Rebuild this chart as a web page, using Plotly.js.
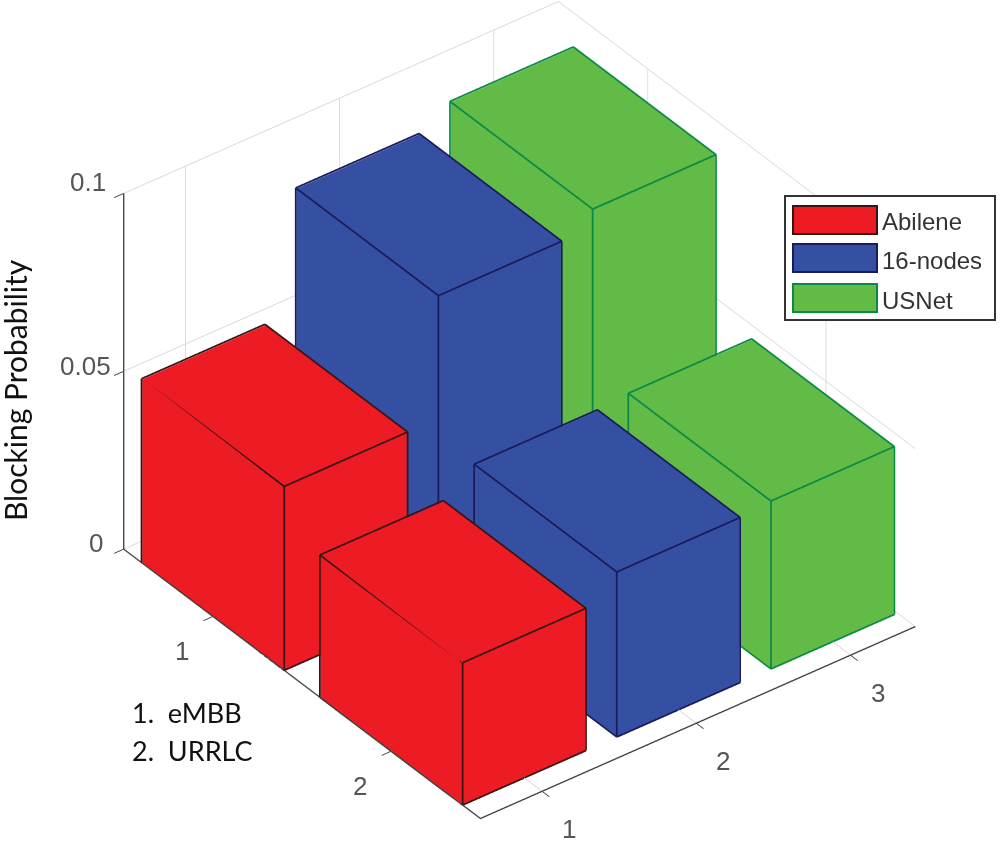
<!DOCTYPE html>
<html><head><meta charset="utf-8">
<script src="https://cdn.plot.ly/plotly-3.0.1.min.js"></script>
<style>html,body{margin:0;padding:0;background:#fff}#c{width:1000px;height:845px}</style>
</head><body><div id="c"></div>
<script>
const seriesNames = ['Abilene','16-nodes','USNet'];
const sliceLabels = ['1.  eMBB','2.  URRLC'];
const seriesTicks = [1,2,3];
const classTicks = [1,2];
const zTicks = [0,0.05,0.1];
const zTickText = ['0','0.05','0.1'];
const abilene = [0.0517,0.040];
const nodes16 = [0.0862,0.0464];
const usnet = [0.0914,0.0472];
const fillColors = ['#ED1C24','#3550A3','#62BB46'];
const edgeColors = ['#3a1414','#1a1a5c','#0a8a45'];
const allValues = [abilene,nodes16,usnet];
const W = 0.4;
const inset = 0.003, insetZ = 0.00015;
const xRange=[0.6,3.42], yRange=[2.5,0.5], zRange=[0,0.1];

const traces = [];
allValues.forEach((vals,s)=>{
  const X=[],Y=[],Z=[],I=[],J=[],K=[];
  const ex=[],ey=[],ez=[];
  vals.forEach((v,c)=>{
    const x0=seriesTicks[s]-W,x1=seriesTicks[s]+W,y0=classTicks[c]-W,y1=classTicks[c]+W;
    const b=X.length;
    const ax0=x0+inset,ax1=x1-inset,ay0=y0+inset,ay1=y1-inset,av=v-insetZ;
    [[ax0,ay0,0],[ax1,ay0,0],[ax1,ay1,0],[ax0,ay1,0],[ax0,ay0,av],[ax1,ay0,av],[ax1,ay1,av],[ax0,ay1,av]].forEach(p=>{X.push(p[0]);Y.push(p[1]);Z.push(p[2]);});
    [[0,1,2],[0,2,3],[4,5,6],[4,6,7],[0,1,5],[0,5,4],[1,2,6],[1,6,5],[2,3,7],[2,7,6],[3,0,4],[3,4,7]].forEach(t=>{I.push(b+t[0]);J.push(b+t[1]);K.push(b+t[2]);});
    const corners=[[x0,y0,0],[x1,y0,0],[x1,y1,0],[x0,y1,0],[x0,y0,v],[x1,y0,v],[x1,y1,v],[x0,y1,v]];
    [[2,3],[3,0],[4,5],[5,6],[6,7],[7,4],[0,4],[2,6],[3,7]].forEach(e=>{
      const p=corners[e[0]],q=corners[e[1]];
      ex.push(p[0],q[0],null);ey.push(p[1],q[1],null);ez.push(p[2],q[2],null);
    });
  });
  traces.push({type:'mesh3d',x:X,y:Y,z:Z,i:I,j:J,k:K,color:fillColors[s],flatshading:true,name:seriesNames[s],hoverinfo:'skip',
    lighting:{ambient:1,diffuse:0,specular:0,roughness:1,fresnel:0},showscale:false});
  traces.push({type:'scatter3d',mode:'lines',x:ex,y:ey,z:ez,line:{color:edgeColors[s],width:3.5},showlegend:false,hoverinfo:'skip'});
});

const axisBase = {showbackground:false,showgrid:true,gridcolor:'#d8d8d8',gridwidth:2,zeroline:false,showspikes:false,
  showline:true,linecolor:'#444',linewidth:3,ticks:'outside',ticklen:12,tickcolor:'#444',tickwidth:2,showticklabels:false,title:{text:''}};
const D = 3;
const A = 1.335;
const tickFont={family:'Liberation Sans, Arial, sans-serif',size:26,color:'#555'};
const sceneLabels=[];
const lab=(x,y,z,t,ax,ay)=>sceneLabels.push({x,y,z,text:t,showarrow:false,font:tickFont,xshift:ax,yshift:ay});
const zShiftX=[-28,-38,-36], zShiftY=[6,5,11];
zTicks.forEach((v,i)=>lab(xRange[0],yRange[1],v,zTickText[i],zShiftX[i],zShiftY[i]));
seriesTicks.forEach(v=>lab(v,yRange[0],0,String(v),27,-38));
classTicks.forEach(v=>lab(xRange[0],v,0,String(v),-31,-35));
const calibri={family:'Lato, sans-serif',size:27,color:'#111'};
const layout = {
  width:1000,height:845,margin:{l:0,r:0,t:0,b:0},paper_bgcolor:'#fff',showlegend:false,
  scene:{domain:{x:[0.039,1],y:[0.0296,1]},aspectmode:'manual',aspectratio:{x:1*A,y:1.073*A,z:0.796*A},
    camera:{projection:{type:'orthographic'},up:{x:0,y:0,z:1},center:{x:0,y:0,z:0},
      eye:{x:-0.4957*D,y:-0.6484*D,z:0.577*D}},
    xaxis:Object.assign({},axisBase,{range:xRange,tickvals:seriesTicks}),
    yaxis:Object.assign({},axisBase,{range:yRange,tickvals:classTicks}),
    zaxis:Object.assign({},axisBase,{range:zRange,tickvals:zTicks}),
    annotations:sceneLabels
  },
  shapes:[],
  annotations:[
    {xref:'paper',yref:'paper',x:15/1000,y:1-390/845,text:'Blocking Probability',showarrow:false,textangle:-90,xanchor:'center',yanchor:'middle',font:{family:'Lato, sans-serif',size:30,color:'#111'}},
    {xref:'paper',yref:'paper',x:130/1000,y:1-712/845,text:sliceLabels[0],showarrow:false,xanchor:'left',yanchor:'middle',font:calibri},
    {xref:'paper',yref:'paper',x:130/1000,y:1-750/845,text:sliceLabels[1],showarrow:false,xanchor:'left',yanchor:'middle',font:calibri}
  ]
};
const px=(x)=>x/1000, py=(y)=>1-y/845;
layout.shapes.push({type:'rect',xref:'paper',yref:'paper',x0:px(785),x1:px(995),y0:py(196),y1:py(320),line:{color:'#333',width:2},fillcolor:'#fff'});
seriesNames.forEach((n,i)=>{
  const top=[206,244,284][i];
  layout.shapes.push({type:'rect',xref:'paper',yref:'paper',x0:px(793),x1:px(877),y0:py(top),y1:py(top+28),line:{color:edgeColors[i],width:2},fillcolor:fillColors[i]});
  layout.annotations.push({xref:'paper',yref:'paper',x:px(880),y:py(top+16),text:n,showarrow:false,xanchor:'left',yanchor:'middle',font:{family:'Liberation Sans, Arial, sans-serif',size:24,color:'#333'}});
});
Plotly.newPlot('c',traces,layout,{displayModeBar:false});
</script></body></html>
